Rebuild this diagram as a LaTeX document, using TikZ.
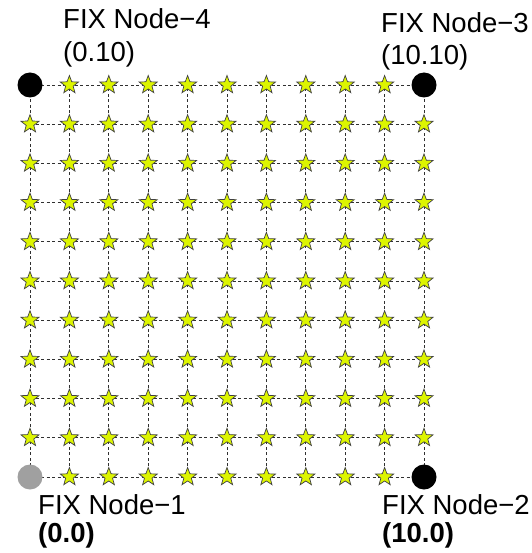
\documentclass[tikz,border=0pt]{standalone}
\usepackage{fontspec}
\setmainfont{Liberation Sans}
\usetikzlibrary{shapes.geometric}
\definecolor{starfill}{HTML}{DDF500}
\definecolor{stardraw}{HTML}{404040}
\definecolor{dashcol}{HTML}{303030}
\definecolor{fixgray}{HTML}{A0A0A0}
\begin{document}
\begin{tikzpicture}[x=1pt,y=1pt,
  starnode/.style={star, star points=5, star point ratio=2.4, minimum size=19pt, inner sep=0pt,
    fill=starfill, draw=stardraw, line width=0.7pt},
  fixnode/.style={circle, minimum size=25pt, inner sep=0pt, fill=black},
  fixnodegray/.style={circle, minimum size=25pt, inner sep=0pt, fill=fixgray},
  gridline/.style={draw=dashcol, line width=0.8pt, dash pattern=on 3pt off 2.5pt},
  lab/.style={anchor=base west, inner sep=0pt, font=\fontsize{27.5}{32}\selectfont}]
\useasboundingbox (0,0) rectangle (531,-553);
% grid nodes
\foreach \i in {0,...,10}{
  \foreach \j in {0,...,10}{
    \coordinate (p-\i-\j) at ({30+39.4*\i},{-477+39.2*\j});
  }
}
% dashed grid connectors
\foreach \i in {0,...,10}{
  \foreach \j [count=\k from 1] in {0,...,9}{
    \draw[gridline] (p-\i-\j) -- (p-\i-\k);
    \draw[gridline] (p-\j-\i) -- (p-\k-\i);
  }
}
% stars
\foreach \i in {0,...,10}{
  \foreach \j in {0,...,10}{
    \node[starnode] (s-\i-\j) at (p-\i-\j) {};
  }
}
% fix nodes
\node[fixnodegray] (fix1) at (p-0-0) {};
\node[fixnode] (fix2) at (p-10-0) {};
\node[fixnode] (fix3) at (p-10-10) {};
\node[fixnode] (fix4) at (p-0-10) {};
% labels
\node[lab] (l4a) at (63,-29) {FIX Node−4};
\node[lab] (l4b) at (63,-62) {(0.10)};
\node[lab] (l3a) at (381,-33) {FIX Node−3};
\node[lab] (l3b) at (381,-65) {(10.10)};
\node[lab] (l1a) at (38,-514) {FIX Node−1};
\node[lab] (l1b) at (38,-542) {\bfseries (0.0)};
\node[lab] (l2a) at (382,-514) {FIX Node−2};
\node[lab] (l2b) at (382,-542) {\bfseries (10.0)};
\end{tikzpicture}
\end{document}
